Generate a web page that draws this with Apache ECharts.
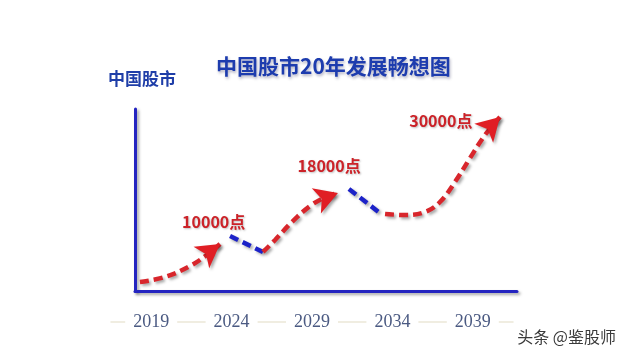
<!DOCTYPE html>
<html>
<head>
<meta charset="utf-8">
<script src="https://cdn.jsdelivr.net/npm/echarts@6/dist/echarts.min.js"></script>
<style>
  html, body { margin: 0; padding: 0; background: #fff; }
  #chart { width: 623px; height: 354px; }
</style>
</head>
<body>
<div id="chart"></div>
<script>
// tick labels under the axis
const yearLabels = ['2019', '2024', '2029', '2034', '2039'];

// red rising legs (year, index)
const rise1Years = [2018.31, 2019.88, 2021.46, 2022.59, 2023.34];
const rise1Values = [1580, 2460, 4400, 6500, 8260];
const rise2Years = [2026.04, 2026.8, 2027.86, 2029.0, 2030.0, 2030.75];
const rise2Values = [6860, 8970, 12130, 14940, 16530, 17230];
const rise3Years = [2033.71, 2034.96, 2036.22, 2037.16, 2038.1, 2039.05, 2039.99, 2040.93];
const rise3Values = [13540, 13360, 13890, 15650, 19160, 23380, 27430, 30590];

// blue pullbacks
const drop1Years = [2023.97, 2026.04];
const drop1Values = [9670, 6860];
const drop2Years = [2031.44, 2033.39];
const drop2Values = [17930, 13710];

const peakLabels = ['10000点', '18000点', '30000点'];

const red = '#d8262c';
const blue = '#1c22c8';
const shadow = {
  shadowColor: 'rgba(0,0,0,0.35)',
  shadowBlur: 3,
  shadowOffsetX: 2,
  shadowOffsetY: 2
};

function pairs(xs, ys) {
  return xs.map((x, i) => [x, ys[i]]);
}

// last point of a rising leg gets an arrowhead and the label
function withArrow(xs, ys, rotate, label, offset) {
  const d = pairs(xs, ys).map(p => ({ value: p, symbol: 'none' }));
  d[d.length - 1] = {
    value: d[d.length - 1].value,
    symbol: 'arrow',
    symbolSize: [20, 23],
    symbolRotate: rotate,
    label: {
      show: true,
      formatter: label,
      position: 'inside',
      offset: offset,
      color: '#cc2228',
      fontSize: 16,
      fontWeight: 'bold',
      fontFamily: 'Noto Sans CJK SC',
      textShadowColor: 'rgba(0,0,0,0.25)',
      textShadowBlur: 2,
      textShadowOffsetX: 1,
      textShadowOffsetY: 1
    }
  };
  return d;
}

function rise(data) {
  return {
    type: 'line',
    xAxisIndex: 0,
    yAxisIndex: 0,
    data: data,
    smooth: 0.4,
    clip: false,
    showSymbol: true,
    symbol: 'none',
    itemStyle: Object.assign({ color: '#e01e24' }, shadow),
    lineStyle: Object.assign({ color: red, width: 4.5, type: [9, 5] }, shadow),
    emphasis: { disabled: true },
    z: 3
  };
}

function drop(xs, ys) {
  return {
    type: 'line',
    xAxisIndex: 0,
    yAxisIndex: 0,
    data: pairs(xs, ys),
    symbol: 'none',
    clip: false,
    lineStyle: Object.assign({ color: blue, width: 4.5, type: [9, 5] }, shadow),
    emphasis: { disabled: true },
    z: 2
  };
}

const myChart = echarts.init(document.getElementById('chart'));

const option = {
  backgroundColor: '#fff',
  animation: false,
  title: [
    {
      text: '中国股市20年发展畅想图',
      left: 211,
      top: 51,
      textStyle: {
        color: '#1d3cae',
        fontSize: 21,
        fontWeight: 'bold',
        fontFamily: 'Noto Sans CJK SC',
        textShadowColor: 'rgba(0,0,60,0.3)',
        textShadowBlur: 3,
        textShadowOffsetX: 1,
        textShadowOffsetY: 2
      }
    },
    {
      text: '头条 @鉴股师',
      right: 2,
      top: 324,
      textStyle: {
        color: '#3a3a3a',
        fontSize: 16,
        fontWeight: 'normal',
        fontFamily: 'Noto Sans CJK SC'
      }
    }
  ],
  grid: [
    { left: 135, right: 106, top: 109, bottom: 63 },
    { left: 111, right: 110, top: 321, bottom: 32 }
  ],
  xAxis: [
    {
      type: 'value',
      gridIndex: 0,
      min: 2018,
      max: 2042,
      axisLine: { show: true, onZero: false, lineStyle: Object.assign({ color: '#2424c0', width: 3 }, shadow) },
      axisTick: { show: false },
      axisLabel: { show: false },
      splitLine: { show: false }
    },
    {
      type: 'category',
      gridIndex: 1,
      data: yearLabels,
      axisLine: { show: true, lineStyle: { color: '#ece8d8', width: 1.5 } },
      axisTick: { show: false },
      axisLabel: {
        margin: 0,
        verticalAlign: 'middle',
        color: '#4b5a82',
        fontSize: 18,
        fontFamily: 'Liberation Serif',
        backgroundColor: '#fff',
        padding: [2, 8]
      }
    }
  ],
  yAxis: [
    {
      type: 'value',
      gridIndex: 0,
      min: 0,
      max: 32000,
      name: '中国股市',
      nameLocation: 'end',
      nameGap: 22,
      nameTextStyle: {
        color: '#1f3ea8',
        fontSize: 17,
        fontWeight: 'bold',
        fontFamily: 'Noto Sans CJK SC',
        padding: [0, 0, 0, 14]
      },
      axisLine: { show: true, lineStyle: Object.assign({ color: '#2424c0', width: 3 }, shadow) },
      axisTick: { show: false },
      axisLabel: { show: false },
      splitLine: { show: false }
    },
    { type: 'value', gridIndex: 1, show: false }
  ],
  series: [
    drop(drop1Years, drop1Values),
    drop(drop2Years, drop2Values),
    rise(withArrow(rise1Years, rise1Values, -54, peakLabels[0], [3, -29])),
    rise(withArrow(rise2Years, rise2Values, -70, peakLabels[1], [2, -31])),
    rise(withArrow(rise3Years, rise3Values, -45, peakLabels[2], [-51, -4]))
  ]
};

option && myChart.setOption(option);
</script>
</body>
</html>
